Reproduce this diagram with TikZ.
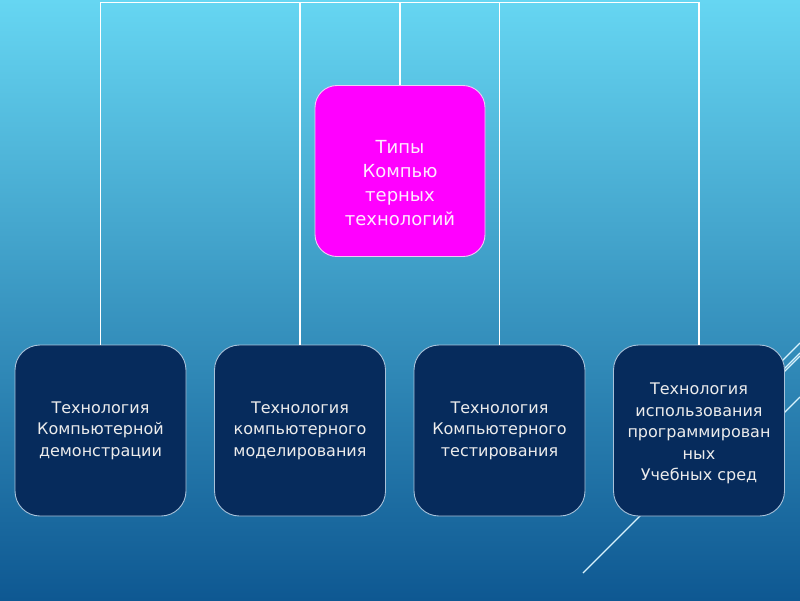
\documentclass[tikz,border=0pt]{standalone}
\usepackage{fontspec}
\setmainfont{DejaVu Sans}
\definecolor{bgtop}{HTML}{66D6F2}
\definecolor{bgbot}{HTML}{0E5892}
\definecolor{navy}{HTML}{062B5C}
\definecolor{navyline}{HTML}{A8C2DA}
\definecolor{mag}{HTML}{FF00FF}
\definecolor{magline}{HTML}{F4C8F4}
\definecolor{txtw}{HTML}{ECECEC}
\tikzset{
  childbox/.style={draw=navyline, line width=0.9pt, fill=navy, rounded corners=25pt,
    minimum width=171pt, minimum height=171pt, inner sep=0pt},
  parentbox/.style={draw=magline, line width=0.9pt, fill=mag, rounded corners=22pt,
    minimum width=170pt, minimum height=171pt, inner sep=0pt},
  childtext/.style={text=txtw, align=center, font=\fontsize{16}{21.5}\selectfont},
  parenttext/.style={text=white!92!mag, align=center, font=\fontsize{18}{24}\selectfont},
  conn/.style={draw=white, line width=1.4pt},
  deco/.style={draw=white!85!cyan, line width=1.1pt}
}
\begin{document}
\begin{tikzpicture}[x=1pt,y=-1pt]
\useasboundingbox (0,0) rectangle (800,600);
\shade[shading angle=-20, top color=bgtop, bottom color=bgbot] (0,0) rectangle (800,600);
% decorative lines
\draw[deco] (583,573) -- (800,356);
\draw[deco] (690,453) -- (800,343);
\draw[deco] (705,448) -- (800,353);
\draw[deco] (750,447) -- (800,397);
% nodes
\node[parentbox] (p) at (400,171) {};
\node[parenttext] (pt) at ([yshift=-12pt]p.center) {Типы\\Компью\\терных\\технологий};
\node[childbox] (c1) at (100.5,430.5) {};
\node[childbox] (c2) at (300,430.5) {};
\node[childbox] (c3) at (499.5,430.5) {};
\node[childbox] (c4) at (699,430.5) {};
\node[childtext] (t1) at (c1.center) {Технология\\Компьютерной\\демонстрации};
\node[childtext] (t2) at (c2.center) {Технология\\компьютерного\\моделирования};
\node[childtext] (t3) at (c3.center) {Технология\\Компьютерного\\тестирования};
\node[childtext] (t4) at ([yshift=-3pt]c4.center) {Технология\\использования\\программирован\\ных\\Учебных сред};
% connectors
\coordinate (top) at (400,2.5);
\draw[conn] (p.north) -- (top);
\draw[conn] (c1.north) |- (top);
\draw[conn] (c2.north) |- (top);
\draw[conn] (c3.north) |- (top);
\draw[conn] (c4.north) |- (top);
\end{tikzpicture}
\end{document}
